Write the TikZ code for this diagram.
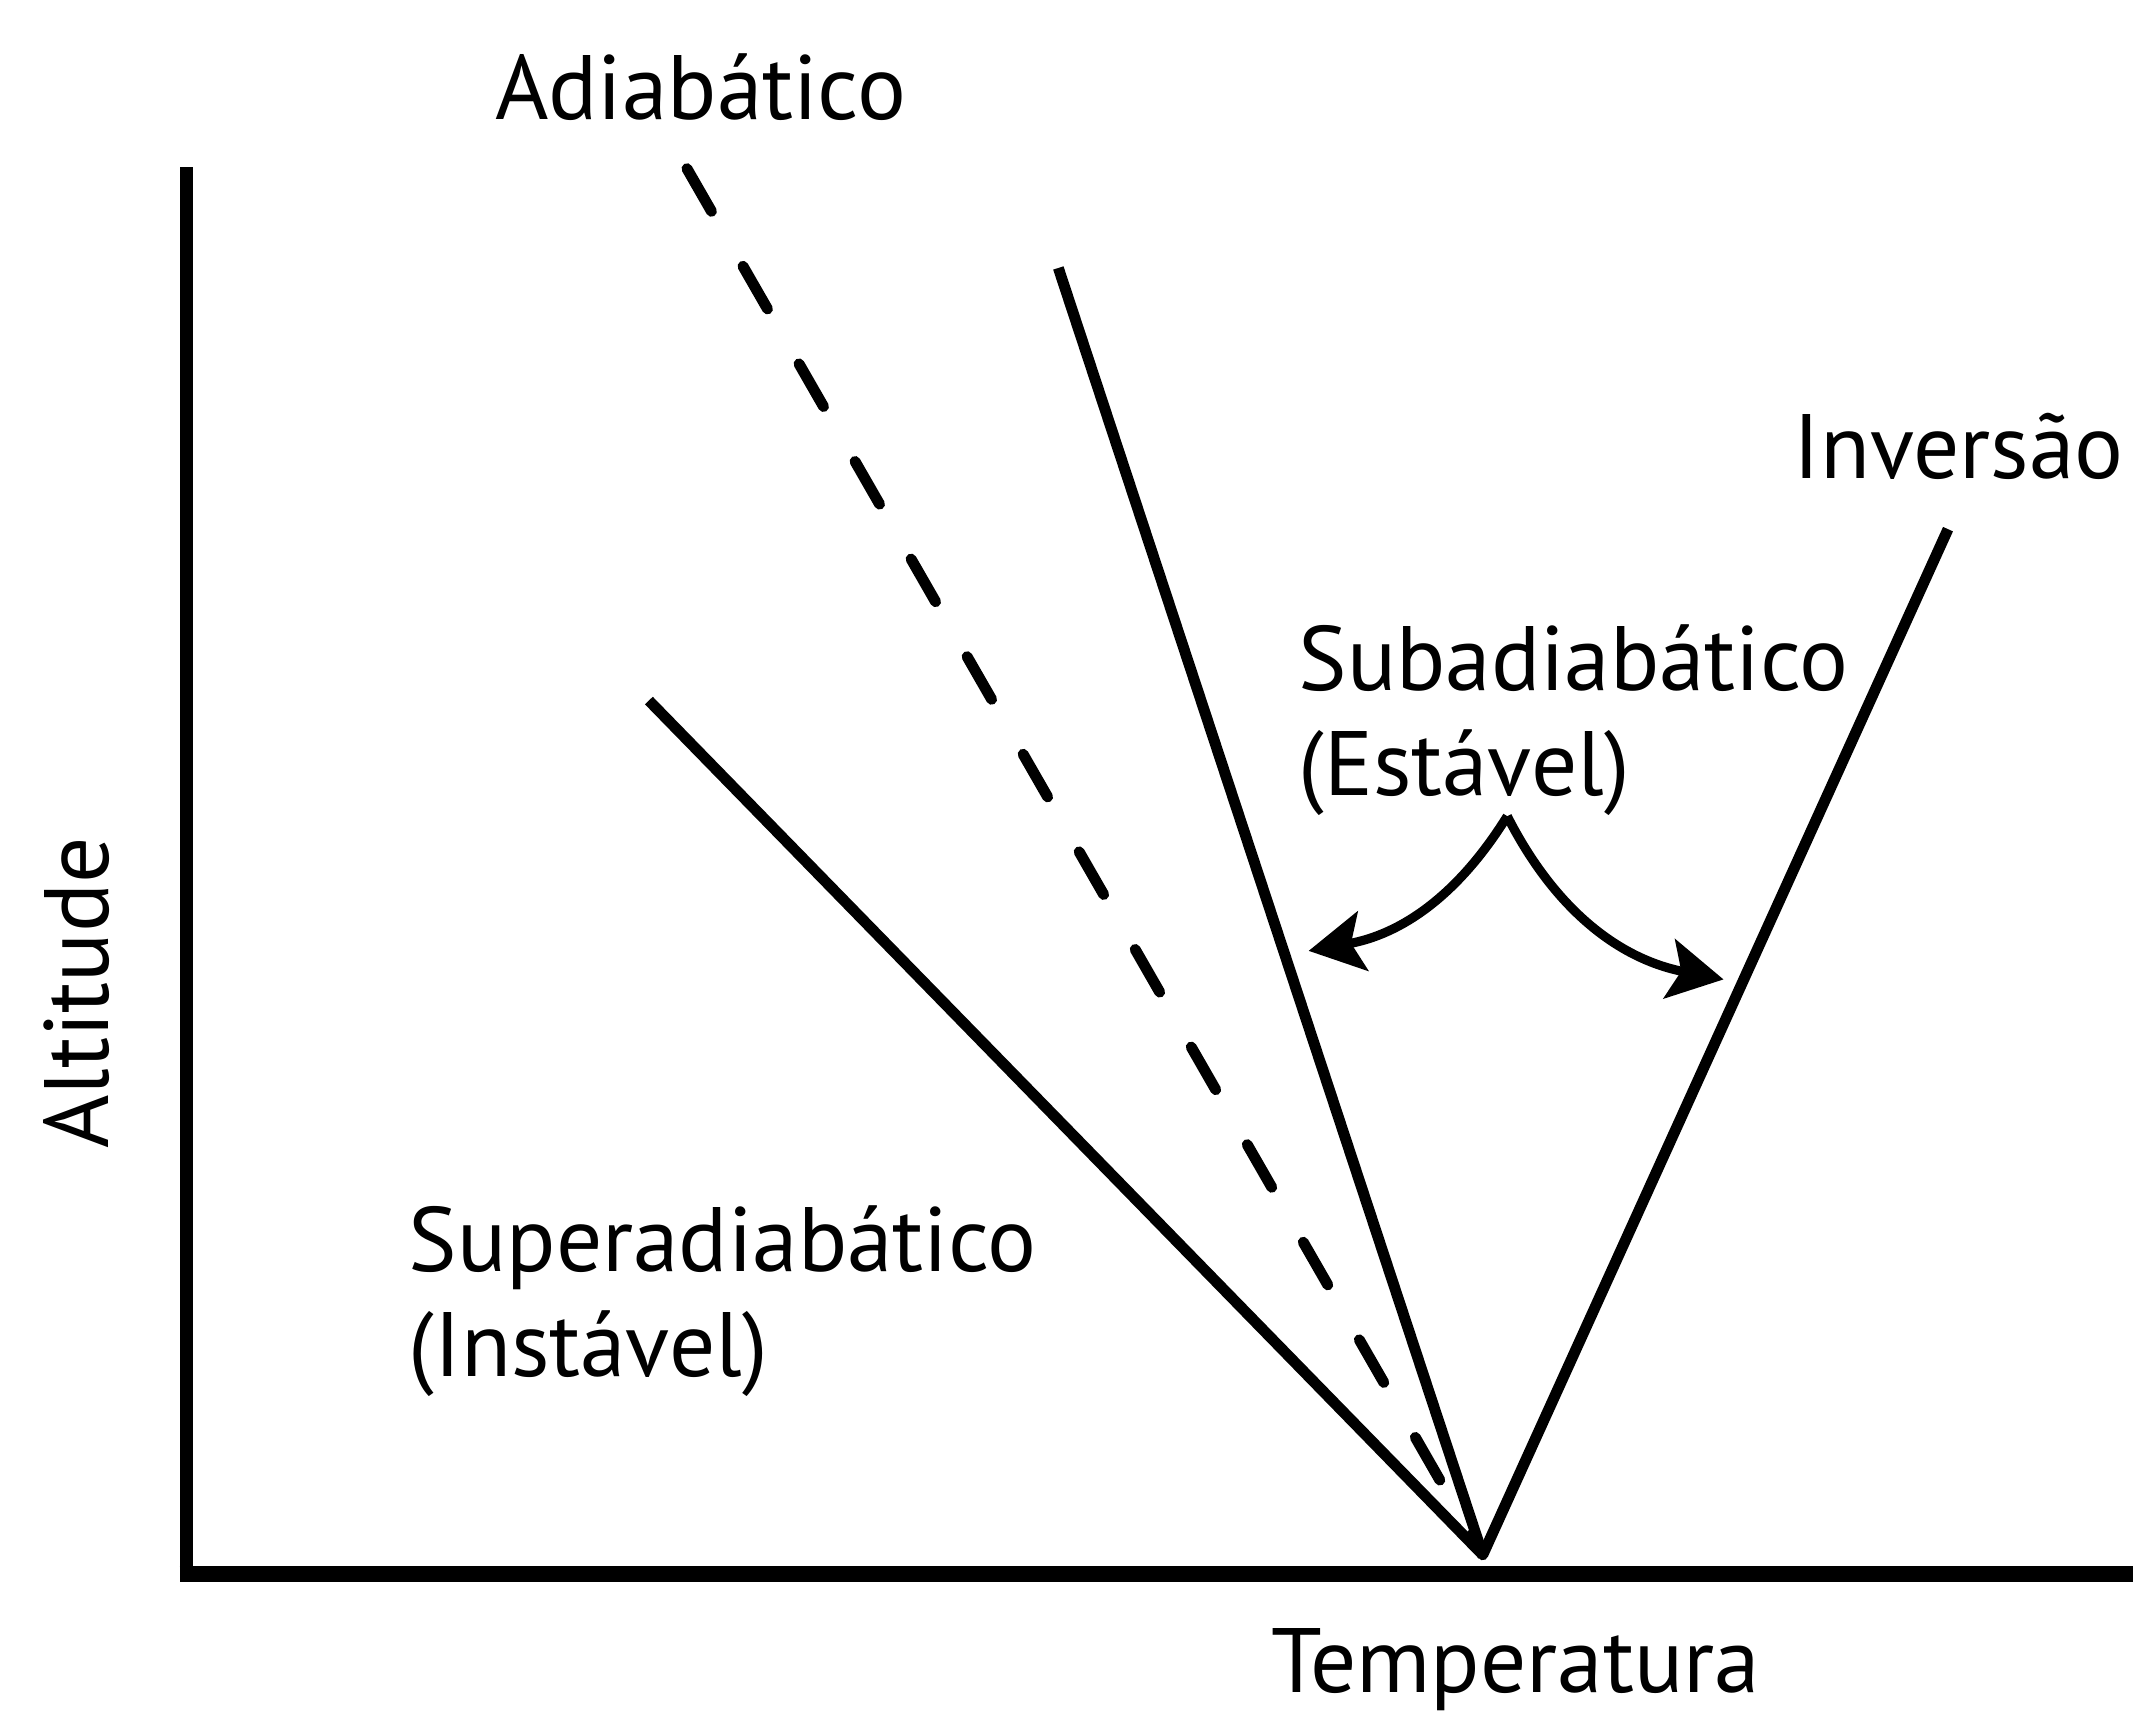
\documentclass[tikz,border=0pt]{standalone}
\usepackage{fontspec}
\setmainfont{PT Sans}
\usetikzlibrary{arrows.meta, positioning, calc}

\begin{document}
\begin{tikzpicture}[x=0.0136cm, y=-0.0136cm,
  lbl/.style={font=\fontsize{26}{30}\selectfont, inner sep=0pt},
  axisline/.style={line width=3.8pt},
  lapse/.style={line width=3.1pt},
  bendarrow/.style={line width=2.6pt, -{Stealth[length=0.55cm, width=0.6cm, inset=0.12cm]}}]
  \useasboundingbox (0,0) rectangle (1568,1259);
  \coordinate (ytop) at (137,123);
  \coordinate (orig) at (137,1157);
  \coordinate (xend) at (1568,1157);
  \coordinate (base) at (1090,1143);
  \coordinate (adtop) at (505,124);
  \coordinate (suptop) at (477,515);
  \coordinate (subtop) at (778,197);
  \coordinate (invtop) at (1432,389);
  \coordinate (apex) at (1108,600);
  \coordinate (tipl) at (962,699);
  \coordinate (tipr) at (1267,720);
  % eixos
  \draw[axisline] (ytop) -- (orig);
  \draw[axisline, line width=4.6pt] ([xshift=-1.9pt]orig) -- (xend);
  % perfis
  \draw[lapse, line cap=round, dash pattern=on 14pt off 18pt] (adtop) -- (base);
  \draw[lapse] (suptop) -- (base);
  \draw[lapse] (subtop) -- (base);
  \draw[lapse] (invtop) -- (base);
  \draw[bendarrow] (apex) to[bend left=24] (tipl);
  \draw[bendarrow] (apex) to[bend right=26] (tipr);
  % textos
  \node[lbl, anchor=base] (adiab) at (515,88) {Adiabático};
  \node[lbl, anchor=base west] (inver) at (1318,352) {Inversão};
  \node[lbl, align=left, anchor=base west] (subad) at (954,585) {Subadiabático\\(Estável)};
  \node[lbl, align=left, anchor=base west] (super) at (300,1012) {Superadiabático\\(Instável)};
  \node[lbl, rotate=90, anchor=base] (alt) at (80,730) {Altitude};
  \node[lbl, anchor=base] (temp) at (1114,1244) {Temperatura};
\end{tikzpicture}
\end{document}
